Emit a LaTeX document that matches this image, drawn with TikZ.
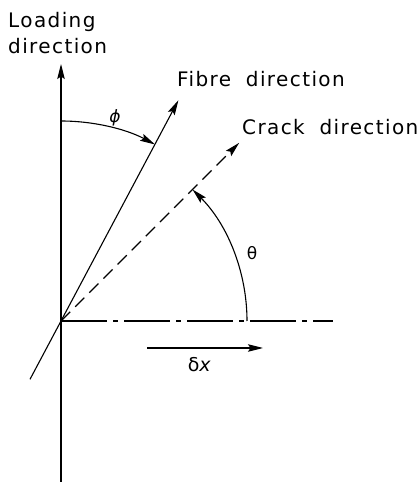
\documentclass[tikz,border=0pt]{standalone}
\usepackage{fontspec}
\setmainfont[LetterSpace=7,WordSpace=1.9]{DejaVu Sans}
\usepackage{tikz}
\usetikzlibrary{arrows.meta,positioning,calc}

\begin{document}
\begin{tikzpicture}[
  x=1pt, y=1pt,
  ln/.style={line width=1.1pt, draw=black},
  arr/.style={ln, -{Stealth[length=15pt,width=7.5pt,inset=2.5pt]}},
  lbl/.style={inner sep=0pt, font=\fontsize{20}{26}\selectfont, align=left},
  sym/.style={inner sep=0pt, font=\fontsize{17}{20}\selectfont}
]
\useasboundingbox (0,0) rectangle (420,485);
% axes and directions
\coordinate (O) at (61,164);
\coordinate (axisBot) at (61,3);
\coordinate (axisTop) at (61,421);
\coordinate (fibreEnd) at ($(O)+(242:66)$);
\coordinate (fibreTip) at ($(O)+(62:250)$);
\coordinate (crackTip) at ($(O)+(45:252)$);
\coordinate (horizEnd) at (333,164);
\draw[arr] (axisBot) -- (axisTop);
\draw[arr] (fibreEnd) -- (fibreTip);
\draw[arr, dash pattern=on 13pt off 7pt] (O) -- (crackTip);
\draw[ln, dash pattern=on 46pt off 6pt on 5pt off 6pt] (O) -- (horizEnd);
% angles
\coordinate (phiStart) at ($(O)+(90:200)$);
\coordinate (thetaStart) at ($(O)+(0:186)$);
\draw[arr] (phiStart) arc[start angle=90, end angle=62, radius=200];
\draw[arr] (thetaStart) arc[start angle=0, end angle=45, radius=186];
\node[sym] (phiLbl) at (115,367) {\itshape ϕ};
\node[sym] (thetaLbl) at (252,232) {θ};
% increment
\coordinate (dxStart) at (147,137);
\coordinate (dxEnd) at (263,137);
\draw[arr] (dxStart) -- (dxEnd);
\node[sym, font=\fontsize{19}{22}\selectfont] (dxLbl) at (200,120) {δ\textit{x}};
% labels
\node[lbl, anchor=north west] (loadLbl) at (8,473) {Loading\\direction};
\node[lbl, anchor=base west] (fibreLbl) at (177,398) {Fibre direction};
\node[lbl, anchor=base west] (crackLbl) at (242,350) {Crack direction};
\end{tikzpicture}
\end{document}
